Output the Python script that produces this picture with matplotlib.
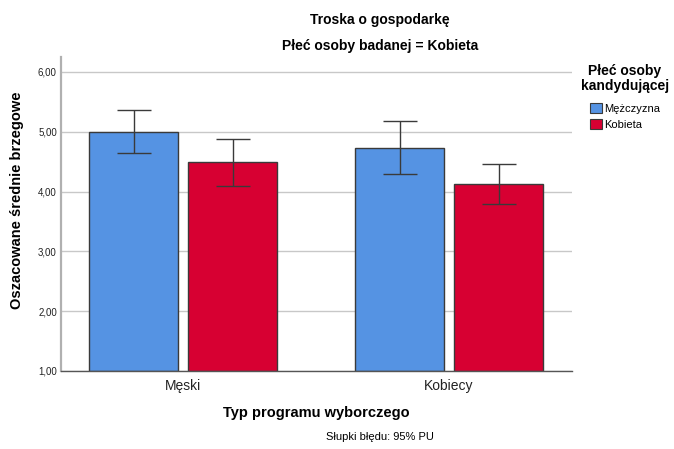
import matplotlib
matplotlib.use("Agg")
import matplotlib.pyplot as plt
import numpy as np
from matplotlib.patches import Patch
from matplotlib.ticker import FixedLocator, FuncFormatter

plt.rcParams['font.family'] = ['Liberation Sans', 'DejaVu Sans']

categories = ["Męski", "Kobiecy"]
series_names = ["Mężczyzna", "Kobieta"]
means = {
    "Mężczyzna": [5.00, 4.73],
    "Kobieta": [4.49, 4.13],
}
ci_low = {
    "Mężczyzna": [4.645, 4.29],
    "Kobieta": [4.095, 3.79],
}
ci_high = {
    "Mężczyzna": [5.365, 5.18],
    "Kobieta": [4.885, 4.465],
}
colors = {"Mężczyzna": "#5593E3", "Kobieta": "#D70032"}
yticks = [1, 2, 3, 4, 5, 6]

fig = plt.figure(figsize=(6.74, 4.49), dpi=100)
ax = fig.add_axes([61/674, 1-371/449, (572-61)/674, (371-57)/449])

x = np.arange(len(categories))
width = 0.335
offset = (width + 10/265.5) / 2
for i, name in enumerate(series_names):
    xs = x + (-offset if i == 0 else offset)
    m = np.array(means[name])
    lo = m - np.array(ci_low[name])
    hi = np.array(ci_high[name]) - m
    ax.bar(xs, m - 1, bottom=1, width=width, color=colors[name],
           edgecolor="#3a3a3a", linewidth=1.0, zorder=2)
    ax.errorbar(xs, m, yerr=[lo, hi], fmt='none', ecolor="#3a3a3a",
                elinewidth=1.0, capsize=12.5, capthick=1.0, zorder=3)

ax.set_xlim(-0.461, 1.463)
ax.set_ylim(1, 6.25)
ax.yaxis.set_major_locator(FixedLocator(yticks))
ax.yaxis.set_major_formatter(FuncFormatter(lambda v, p: f"{v:.2f}".replace(".", ",")))
ax.set_xticks(x)
ax.set_xticklabels(categories, fontsize=10, color="#222222")
ax.tick_params(axis='x', length=0, pad=6)
ax.tick_params(axis='y', length=0, labelsize=7, pad=3, colors="#222222")
ax.grid(axis='y', color="#c8c8c8", linewidth=1.0, zorder=0)
ax.set_axisbelow(True)
for s in ["top", "right"]:
    ax.spines[s].set_visible(False)
ax.spines["left"].set_color("#b0b0b0")
ax.spines["left"].set_linewidth(1.6)
ax.spines["bottom"].set_color("#555555")
ax.spines["bottom"].set_linewidth(1.0)

fig.text(380/674, 1-20/449, "Troska o gospodarkę", ha='center', va='center',
         fontsize=10, fontweight='bold')
fig.text(380/674, 1-46/449, "Płeć osoby badanej = Kobieta", ha='center', va='center',
         fontsize=10, fontweight='bold')
fig.text(316/674, 1-413/449, "Typ programu wyborczego", ha='center', va='center',
         fontsize=10.5, fontweight='bold')
fig.text(380/674, 1-437/449, "Słupki błędu: 95% PU", ha='center', va='center',
         fontsize=8)
fig.text(17/674, 1-200/449, "Oszacowane średnie brzegowe", ha='center', va='center',
         rotation=90, fontsize=10.5, fontweight='bold')

fig.text(625/674, 1-71/449, "Płeć osoby", ha='center', va='center',
         fontsize=10, fontweight='bold')
fig.text(625/674, 1-86/449, "kandydującej", ha='center', va='center',
         fontsize=10, fontweight='bold')
handles = [Patch(facecolor=colors[n], edgecolor="#3a3a3a", linewidth=0.8) for n in series_names]
leg = fig.legend(handles, series_names, loc='upper left',
                 bbox_to_anchor=(586/674, 1-99/449), frameon=False,
                 fontsize=8, handlelength=1.0, handleheight=1.0,
                 handletextpad=0.2, labelspacing=0.45, borderaxespad=0)

fig.savefig("out.png", dpi=100)
